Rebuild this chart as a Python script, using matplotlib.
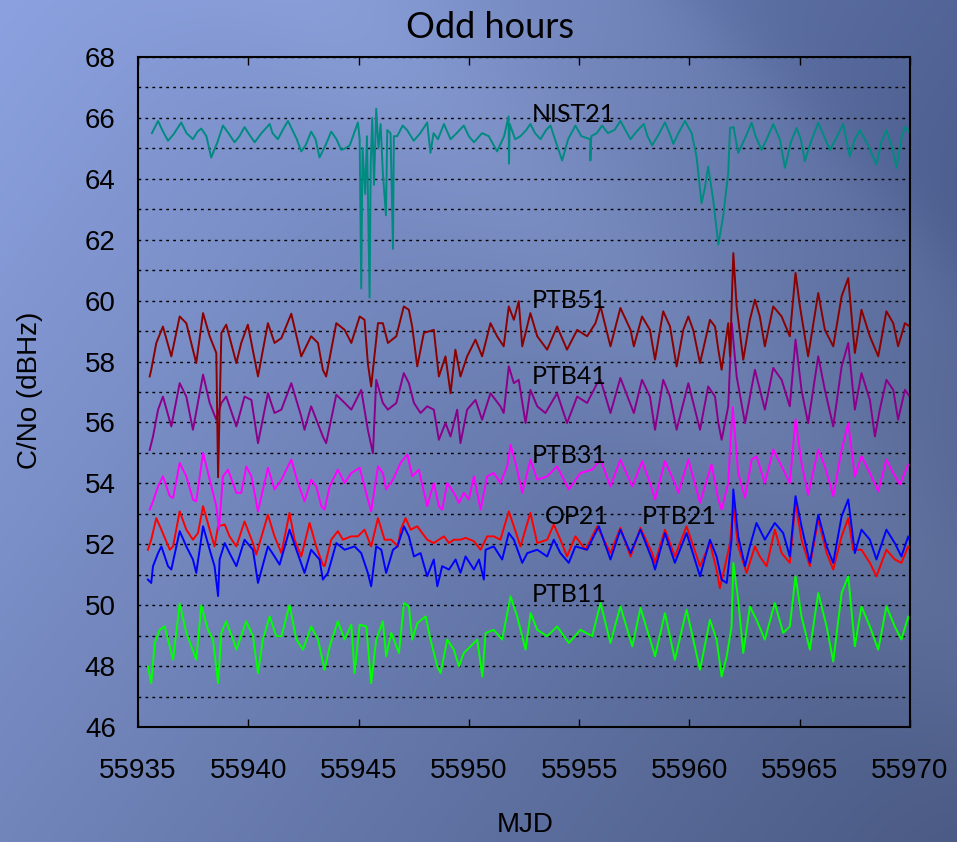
import numpy as np
import matplotlib
matplotlib.use("Agg")
import matplotlib.pyplot as plt
from matplotlib.ticker import MultipleLocator

# C/No per station, odd hours; x given as days after MJD 55935
MJD0 = 55935

nist21_day = [0.63, 0.91, 1.1, 1.36, 1.6, 1.96, 2.2, 2.49, 2.7, 2.87, 3.1, 3.32, 3.6, 3.85, 4.1, 4.38,
              4.6, 4.83, 5.05, 5.29, 5.6, 5.97, 6.1, 6.34, 6.6, 6.8, 7.0, 7.2, 7.4, 7.6, 7.85, 8.05,
              8.23, 8.5, 8.76, 9.0, 9.21, 9.4, 9.6, 9.8, 9.97, 10.05, 10.12, 10.18, 10.3, 10.38, 10.5,
              10.55, 10.62, 10.7, 10.8, 10.9, 11.0, 11.1, 11.24, 11.3, 11.45, 11.56, 11.6, 11.75, 12.0,
              12.2, 12.5, 12.8, 13.11, 13.26, 13.4, 13.6, 13.87, 14.17, 14.45, 14.77, 15.0, 15.23, 15.6,
              15.9, 16.28, 16.6, 16.8, 16.82, 16.85, 17.1, 17.34, 17.6, 17.79, 18.0, 18.25, 18.5, 18.7,
              18.95, 19.23, 19.5, 19.83, 20.1, 20.5, 20.51, 20.55, 20.8, 21.04, 21.3, 21.6, 21.87, 22.1,
              22.33, 22.6, 22.93, 23.1, 23.31, 23.6, 23.89, 24.1, 24.27, 24.5, 24.8, 25.1, 25.32, 25.55,
              25.7, 25.85, 26.08, 26.31, 26.53, 26.76, 26.84, 27.0, 27.21, 27.5, 27.82, 28.0, 28.27, 28.5,
              28.8, 29.1, 29.33, 29.6, 29.86, 30.05, 30.23, 30.5, 30.84, 31.1, 31.37, 31.7, 31.97, 32.27,
              32.5, 32.73, 33.1, 33.48, 33.7, 33.93, 34.2, 34.39, 34.6, 34.77, 35.0]
nist21_cn = [65.5, 65.9, 65.6, 65.25, 65.45, 65.85, 65.5, 65.3, 65.55, 65.65, 65.4, 64.7, 65.2, 65.75, 65.5, 65.2,
             65.4, 65.7, 65.45, 65.2, 65.5, 65.8, 65.5, 65.3, 65.65, 65.9, 65.6, 65.3, 64.9, 65.1, 65.55, 65.3,
             64.7, 65.1, 65.55, 65.3, 64.95, 65.0, 65.1, 65.5, 65.85, 65.3, 60.4, 65.0, 63.5, 65.4, 60.1,
             64.5, 66.0, 63.8, 66.3, 65.0, 65.8, 64.2, 62.8, 65.6, 65.5, 61.7, 65.4, 65.4, 65.75,
             65.6, 65.25, 65.5, 65.85, 64.85, 65.5, 65.3, 65.8, 65.3, 65.5, 65.75, 65.4, 65.2, 65.5,
             65.4, 64.9, 65.4, 66.05, 64.5, 65.8, 65.3, 65.4, 65.6, 65.8, 65.5, 65.3, 65.6, 65.75,
             65.2, 64.6, 65.3, 65.75, 65.4, 65.3, 64.6, 65.4, 65.5, 65.75, 65.5, 65.6, 65.9, 65.6,
             65.3, 65.55, 65.8, 65.4, 65.1, 65.45, 65.85, 65.5, 65.15, 65.5, 65.9, 65.5, 64.74, 63.2,
             63.7, 64.4, 63.3, 61.84, 62.77, 64.2, 65.67, 65.7, 64.85, 65.3, 65.84, 65.4, 64.95, 65.3,
             65.8, 65.3, 64.36, 65.2, 65.67, 65.3, 64.58, 65.2, 65.84, 65.4, 64.95, 65.4, 65.8, 64.74,
             65.3, 65.6, 65.1, 64.47, 65.2, 65.6, 65.0, 64.36, 65.3, 65.7, 65.5]

ptb51_day = [0.53, 0.6, 0.83, 1.13, 1.51, 1.89, 2.19, 2.64, 2.95, 3.25, 3.55, 3.63, 3.78, 4.0, 4.46, 4.68,
             4.98, 5.44, 5.89, 6.19, 6.5, 6.95, 7.4, 7.85, 8.16, 8.38, 8.53, 8.99, 9.37, 9.67, 10.05, 10.27,
             10.42, 10.57, 10.88, 11.1, 11.33, 11.71, 12.05, 12.28, 12.43, 12.66, 12.96, 13.41, 13.64, 13.94,
             14.17, 14.39, 14.62, 14.92, 15.3, 15.6, 15.98, 16.28, 16.58, 16.81, 17.04, 17.26, 17.42, 17.79,
             18.1, 18.55, 19.0, 19.45, 19.91, 20.36, 20.74, 20.97, 21.42, 21.87, 22.33, 22.48, 22.85, 23.21,
             23.44, 23.81, 24.12, 24.42, 24.72, 24.95, 25.17, 25.48, 25.93, 26.16, 26.31, 26.46, 26.76, 26.84,
             26.99, 27.14, 27.44, 27.74, 27.97, 28.19, 28.42, 28.8, 29.18, 29.55, 29.81, 30.01, 30.38, 30.84,
             31.14, 31.52, 31.9, 32.2, 32.5, 32.8, 33.18, 33.56, 33.93, 34.24, 34.46, 34.77, 34.99]
ptb51_cn = [57.51, 57.73, 58.61, 59.15, 58.17, 59.48, 59.26, 57.95, 59.59, 58.83, 58.28, 54.2, 58.94, 59.21, 57.95, 58.61,
            59.21, 57.51, 59.26, 58.61, 58.77, 59.57, 58.17, 58.83, 58.61, 57.73, 57.51, 59.26, 59.04, 58.61, 59.48, 59.37,
            57.95, 57.18, 59.26, 59.26, 58.61, 58.83, 59.81, 59.7, 59.15, 57.84, 58.94, 59.04, 57.51, 58.17,
            56.96, 58.39, 57.51, 58.17, 58.72, 58.17, 59.26, 58.83, 58.5, 59.81, 59.37, 59.98, 58.5, 59.59,
            58.83, 58.39, 59.15, 58.39, 59.04, 58.83, 59.26, 59.81, 58.5, 59.76, 59.04, 58.5, 59.48, 59.04,
            58.06, 59.65, 59.15, 57.84, 59.04, 59.48, 59.04, 57.95, 59.37, 59.15, 58.39, 57.73, 59.26, 58.17,
            61.56, 59.81, 58.06, 59.37, 60.03, 59.48, 58.5, 59.81, 59.48, 58.83, 60.91, 59.81, 58.17, 60.25,
            59.04, 58.5, 60.14, 60.74, 58.28, 59.7, 58.83, 58.17, 59.65, 59.26, 58.5, 59.26, 59.15]

ptb41_day = [0.53, 0.68, 0.91, 1.13, 1.51, 1.89, 2.19, 2.49, 2.95, 3.25, 3.55, 3.78, 4.0, 4.46, 4.83, 5.14,
             5.44, 5.89, 6.19, 6.5, 6.95, 7.4, 7.55, 7.85, 8.38, 8.53, 8.99, 9.37, 9.67, 10.12, 10.42, 10.65,
             10.8, 11.1, 11.33, 11.71, 12.05, 12.28, 12.51, 12.81, 13.11, 13.41, 13.64, 13.94, 14.17, 14.47,
             14.62, 14.92, 15.3, 15.6, 15.98, 16.43, 16.58, 16.81, 17.04, 17.26, 17.57, 17.79, 18.1, 18.47,
             19.0, 19.45, 19.91, 20.36, 20.82, 20.97, 21.42, 21.87, 22.48, 22.85, 23.21, 23.44, 23.81, 24.12,
             24.42, 24.95, 25.48, 25.85, 26.16, 26.31, 26.46, 26.76, 26.92, 27.14, 27.52, 27.97, 28.42, 28.8,
             29.18, 29.55, 29.81, 30.08, 30.38, 30.84, 31.14, 31.52, 31.9, 32.2, 32.5, 32.8, 33.18, 33.41,
             33.63, 33.93, 34.24, 34.46, 34.77, 34.99]
ptb41_cn = [55.1, 55.54, 56.42, 56.85, 55.87, 57.29, 56.85, 55.76, 57.57, 56.64, 56.09, 56.64, 56.85, 55.87, 56.85, 56.74,
            55.32, 56.96, 56.31, 56.42, 57.29, 56.2, 55.76, 56.53, 55.54, 55.32, 56.91, 56.64, 56.42, 57.07, 55.76, 54.99,
            57.4, 56.64, 56.42, 56.64, 57.62, 57.29, 56.64, 56.31, 56.53, 56.42, 55.43, 55.98, 55.54, 56.42,
            55.32, 56.42, 56.74, 56.09, 56.96, 56.53, 56.31, 57.84, 57.29, 57.4, 55.98, 57.07, 56.53, 56.31,
            56.96, 55.98, 56.85, 56.64, 57.29, 57.4, 56.31, 57.46, 56.31, 57.4, 56.85, 55.76, 57.4, 56.85,
            55.76, 57.29, 55.76, 57.18, 56.85, 55.98, 55.43, 56.53, 59.26, 57.51, 55.98, 57.73, 56.42, 57.79,
            57.4, 56.53, 58.72, 57.07, 55.98, 58.17, 57.07, 55.87, 57.84, 58.61, 56.42, 57.62, 56.74, 55.54,
            56.42, 57.4, 57.07, 56.09, 57.07, 56.85]

ptb31_day = [0.53, 0.68, 0.91, 1.13, 1.44, 1.59, 1.89, 2.19, 2.49, 2.64, 2.95, 3.25, 3.55, 3.67, 3.85, 4.08,
             4.46, 4.68, 4.91, 5.14, 5.44, 5.89, 6.19, 6.5, 6.95, 7.25, 7.55, 7.85, 8.08, 8.31, 8.46, 8.69,
             9.06, 9.37, 9.67, 10.05, 10.42, 10.57, 10.88, 11.1, 11.25, 11.56, 11.9, 12.21, 12.43, 12.73,
             13.11, 13.41, 13.64, 13.79, 14.02, 14.32, 14.55, 14.77, 15.0, 15.23, 15.53, 15.83, 16.13, 16.43,
             16.74, 16.89, 17.19, 17.42, 17.79, 18.1, 18.55, 19.0, 19.53, 20.06, 20.59, 20.97, 21.42, 21.87,
             22.41, 22.86, 23.31, 23.44, 23.89, 24.27, 24.5, 24.95, 25.48, 26.0, 26.31, 26.46, 26.76, 26.84,
             26.96, 27.21, 27.52, 27.82, 28.04, 28.42, 28.8, 29.18, 29.55, 29.81, 30.08, 30.38, 30.84, 31.14,
             31.52, 31.9, 32.2, 32.5, 32.8, 33.18, 33.56, 33.93, 34.24, 34.54, 34.92]
ptb31_cn = [53.14, 53.41, 53.9, 54.23, 53.58, 53.52, 54.67, 54.23, 53.47, 53.41, 55.0, 54.12, 53.25, 52.48, 54.23, 54.45,
            53.69, 53.69, 54.56, 54.23, 53.08, 54.51, 53.8, 54.12, 54.78, 54.01, 53.41, 54.12, 53.9, 53.25, 53.14, 53.9,
            54.45, 54.01, 54.34, 54.51, 53.47, 53.08, 54.56, 54.34, 53.8, 54.12, 54.67, 54.95, 54.23, 54.45,
            53.25, 54.01, 53.25, 53.14, 54.01, 53.69, 53.36, 53.69, 53.47, 54.23, 53.14, 54.23, 54.34, 54.01,
            54.56, 55.27, 54.45, 53.69, 54.78, 54.12, 54.23, 54.56, 53.8, 54.34, 54.45, 54.78, 53.9, 54.78,
            53.9, 54.73, 53.8, 53.47, 54.73, 54.12, 53.69, 54.78, 53.36, 54.62, 53.47, 53.14, 54.01, 55.11,
            56.5, 54.34, 53.52, 54.78, 54.89, 54.01, 55.11, 54.56, 54.01, 56.1, 54.67, 53.63, 55.11, 54.56,
            53.58, 55.11, 55.98, 54.23, 54.89, 54.34, 53.74, 54.78, 54.34, 53.96, 54.62]

op21_day = [0.45, 0.6, 0.83, 1.06, 1.44, 1.59, 1.89, 2.19, 2.49, 2.72, 2.95, 3.25, 3.47, 3.63, 3.93, 4.15,
            4.46, 4.83, 5.21, 5.36, 5.89, 6.19, 6.5, 6.87, 7.1, 7.4, 7.78, 8.08, 8.38, 8.46, 8.76, 9.06,
            9.29, 9.67, 9.97, 10.27, 10.57, 10.88, 11.18, 11.48, 11.78, 11.91, 12.13, 12.36, 12.66, 13.11,
            13.41, 13.87, 14.1, 14.32, 14.62, 14.85, 15.23, 15.53, 15.83, 16.13, 16.43, 16.81, 17.04, 17.34,
            17.79, 18.1, 18.55, 18.85, 19.15, 19.45, 19.83, 20.29, 20.82, 21.42, 21.87, 22.33, 22.78, 23.31,
            23.44, 23.89, 24.34, 24.87, 25.48, 25.93, 26.23, 26.38, 26.61, 26.84, 26.99, 27.21, 27.59, 27.97,
            28.19, 28.5, 28.87, 29.18, 29.55, 29.81, 30.08, 30.46, 30.84, 31.22, 31.52, 31.9, 32.2, 32.42,
            32.8, 33.18, 33.48, 33.93, 34.31, 34.61, 34.92, 35.0]
op21_cn = [51.82, 52.15, 52.86, 52.48, 51.82, 51.93, 53.08, 52.48, 52.15, 52.37, 53.25, 52.48, 51.93, 52.59, 52.65, 52.26,
           51.93, 52.75, 52.04, 51.66, 52.97, 52.26, 51.71, 53.03, 52.15, 51.6, 52.7, 51.93, 51.33, 51.28, 52.15, 52.43,
           52.15, 52.26, 52.26, 52.48, 51.93, 52.86, 52.15, 52.15, 51.93, 52.48, 52.86, 52.48, 52.59, 52.15,
           52.04, 52.26, 52.04, 52.15, 52.15, 52.21, 52.1, 51.82, 52.26, 52.26, 52.15, 53.08, 52.59, 51.93,
           53.03, 52.04, 52.15, 52.65, 52.15, 51.6, 52.26, 51.82, 52.59, 51.71, 52.54, 51.6, 52.54, 51.71,
           51.39, 52.48, 51.6, 52.59, 51.28, 52.04, 51.17, 50.56, 51.28, 52.04, 53.25, 51.93, 51.06, 51.93,
           51.6, 51.28, 52.48, 51.71, 51.39, 53.36, 52.15, 51.28, 52.81, 51.71, 51.17, 52.26, 52.86, 51.82,
           51.82, 51.39, 50.95, 51.82, 51.5, 51.39, 51.93, 51.82]

ptb21_day = [0.45, 0.6, 0.68, 0.91, 1.06, 1.36, 1.51, 1.89, 2.19, 2.49, 2.64, 2.95, 3.25, 3.47, 3.63, 3.7,
             3.93, 4.15, 4.46, 4.83, 5.21, 5.44, 5.89, 6.19, 6.42, 6.87, 7.18, 7.55, 7.85, 8.23, 8.38, 8.61,
             8.99, 9.37, 9.82, 10.12, 10.42, 10.57, 10.8, 11.03, 11.25, 11.56, 11.76, 12.06, 12.28, 12.51,
             12.81, 13.11, 13.41, 13.57, 13.79, 14.1, 14.4, 14.62, 14.85, 15.23, 15.46, 15.68, 15.76, 16.13,
             16.51, 16.81, 17.04, 17.42, 17.65, 18.1, 18.55, 18.85, 19.15, 19.53, 19.83, 20.36, 20.89, 21.42,
             21.87, 22.33, 22.78, 23.31, 23.44, 23.89, 24.34, 24.87, 25.48, 25.93, 26.23, 26.46, 26.69, 26.91,
             26.99, 27.21, 27.52, 27.74, 28.04, 28.42, 28.87, 29.25, 29.55, 29.81, 30.08, 30.46, 30.84, 31.22,
             31.52, 31.9, 32.2, 32.5, 32.8, 33.18, 33.48, 33.93, 34.31, 34.61, 34.92, 35.0]
ptb21_cn = [50.84, 50.73, 51.28, 51.71, 51.93, 51.28, 51.17, 52.43, 51.93, 51.5, 51.06, 52.59, 51.82, 51.28, 50.3, 51.5,
            52.04, 51.71, 51.28, 52.15, 51.82, 50.73, 51.93, 51.6, 51.33, 52.48, 51.82, 51.06, 51.82, 51.5, 50.84, 51.06,
            52.04, 51.82, 51.93, 51.71, 51.06, 50.62, 51.93, 51.82, 51.06, 51.82, 51.93, 52.59, 52.26, 51.6,
            51.71, 50.95, 51.5, 50.62, 51.28, 51.17, 51.5, 51.06, 51.6, 51.17, 51.5, 50.84, 51.82, 51.93,
            51.5, 52.37, 52.15, 51.39, 51.71, 51.82, 51.6, 52.15, 51.71, 51.39, 51.93, 51.82, 52.59, 51.5,
            52.48, 51.71, 52.48, 51.5, 51.17, 52.37, 51.39, 52.37, 50.95, 52.15, 51.6, 50.84, 50.73, 52.15,
            53.8, 52.26, 51.28, 51.93, 52.7, 52.15, 52.7, 52.37, 51.6, 53.58, 52.59, 51.39, 52.97, 51.93,
            51.39, 52.92, 53.47, 51.71, 52.48, 52.15, 51.5, 52.48, 52.04, 51.6, 52.26, 52.1]

ptb11_day = [0.45, 0.6, 0.76, 0.98, 1.21, 1.51, 1.59, 1.89, 2.19, 2.42, 2.64, 2.87, 3.17, 3.4, 3.63, 3.78,
             4.0, 4.31, 4.46, 4.91, 5.21, 5.44, 5.66, 5.97, 6.27, 6.5, 6.87, 7.18, 7.48, 7.85, 8.16, 8.46,
             8.69, 9.06, 9.37, 9.67, 9.82, 10.05, 10.35, 10.57, 10.8, 11.1, 11.25, 11.48, 11.6, 11.83, 12.06,
             12.28, 12.43, 12.66, 13.04, 13.26, 13.57, 13.72, 14.02, 14.32, 14.55, 14.77, 15.08, 15.38, 15.61,
             15.76, 16.13, 16.51, 16.89, 17.19, 17.57, 17.8, 18.1, 18.55, 19.0, 19.53, 20.06, 20.59, 20.97,
             21.42, 21.87, 22.41, 22.78, 23.31, 23.44, 23.89, 24.34, 24.87, 25.48, 25.93, 26.23, 26.46, 26.69,
             26.91, 26.99, 27.21, 27.44, 27.74, 28.04, 28.42, 28.87, 29.25, 29.55, 29.81, 30.08, 30.46, 30.84,
             31.22, 31.52, 31.9, 32.2, 32.5, 32.8, 33.18, 33.56, 33.93, 34.31, 34.61, 34.92, 35.0]
ptb11_cn = [47.99, 47.44, 48.76, 49.19, 49.3, 48.43, 48.21, 50.05, 49.09, 48.65, 48.21, 50.0, 49.19, 48.87, 47.44, 49.09,
            49.47, 48.87, 48.54, 49.47, 48.98, 47.77, 48.87, 49.63, 48.98, 48.98, 50.0, 48.87, 48.54, 49.3, 48.87, 47.88,
            48.65, 49.47, 48.87, 49.36, 47.77, 49.36, 49.3, 47.44, 48.87, 49.47, 48.32, 49.09, 48.87, 48.43, 50.07,
            49.96, 48.87, 49.41, 49.63, 48.87, 47.99, 47.77, 48.87, 48.54, 47.99, 48.43, 48.65, 48.87, 47.66,
            49.09, 49.19, 48.87, 50.29, 49.63, 48.54, 49.74, 49.19, 48.98, 49.3, 48.76, 49.19, 48.98, 50.07,
            48.76, 49.96, 48.65, 49.91, 48.65, 48.32, 49.74, 48.21, 49.85, 47.88, 49.52, 48.87, 47.66, 48.32,
            49.3, 51.39, 50.18, 48.43, 49.96, 49.52, 48.87, 50.07, 49.09, 49.3, 50.95, 49.63, 48.54, 50.4,
            49.3, 48.15, 50.4, 50.95, 48.65, 49.96, 49.3, 48.54, 49.96, 49.3, 48.87, 49.63, 49.5]

# name, x, y, colour, label position (MJD, C/No)
series = [
    ("PTB11", ptb11_day, ptb11_cn, "#00ff00", (55952.86, 50.35)),
    ("OP21", op21_day, op21_cn, "#ff0000", (55953.45, 52.9)),
    ("PTB21", ptb21_day, ptb21_cn, "#0000ff", (55957.85, 52.9)),
    ("PTB31", ptb31_day, ptb31_cn, "#ff00ff", (55952.86, 54.9)),
    ("PTB41", ptb41_day, ptb41_cn, "#8b008b", (55952.86, 57.5)),
    ("PTB51", ptb51_day, ptb51_cn, "#8b0000", (55952.86, 60.0)),
    ("NIST21", nist21_day, nist21_cn, "#008b80", (55952.86, 66.1)),
]

W, H = 957, 842
fig = plt.figure(figsize=(W / 100, H / 100), dpi=100)

# slide style background: blue gradient with soft diagonal bands
bg = fig.add_axes([0, 0, 1, 1], zorder=-10)
yy, xx = np.mgrid[0:H, 0:W]
s = 0.6 * xx / W + 0.4 * yy / H
d = (xx - yy) / W
light = np.array([140, 162, 224]) / 255
dark = np.array([74, 90, 132]) / 255
img = light[None, None, :] * (1 - s[..., None]) + dark[None, None, :] * s[..., None]
shade = -0.07 / (1 + np.exp(-(d - 0.72) / 0.03)) + 0.04 * np.exp(-((d - 0.35) / 0.15) ** 2)
img = np.clip(img + shade[..., None], 0, 1)
bg.imshow(img, aspect="auto", extent=[0, 1, 0, 1], origin="upper")
bg.axis("off")

ax = fig.add_axes([138 / W, 1 - 727 / H, 772 / W, 670 / H])
ax.patch.set_alpha(0)

for name, day, cn, color, (lx, ly) in series:
    ax.plot(MJD0 + np.array(day), cn, color=color, lw=1.4)
    ax.text(lx, ly, name, fontsize=18, family="Lato", va="center", ha="left", color="black")

ax.set_xlim(55935, 55970)
ax.set_ylim(46, 68)
ax.xaxis.set_major_locator(MultipleLocator(5))
ax.yaxis.set_major_locator(MultipleLocator(2))
ax.yaxis.set_minor_locator(MultipleLocator(1))
ax.grid(True, which="both", axis="y", color="black", ls=(0, (2, 3)), lw=1.0)
ax.tick_params(axis="x", direction="in", top=True, length=6, width=1, labelsize=20, pad=22)
ax.tick_params(axis="y", which="both", length=0, labelsize=20, pad=16)
for lab in ax.get_xticklabels() + ax.get_yticklabels():
    lab.set_family("Liberation Sans")
for sp in ax.spines.values():
    sp.set_linewidth(1.5)
ax.ticklabel_format(useOffset=False, style="plain", axis="x")

fig.text(30 / W, 1 - 390 / H, "C/No (dBHz)", rotation=90, fontsize=20, family="Liberation Sans",
         ha="center", va="center")
fig.text(525 / W, 1 - 825 / H, "MJD", fontsize=20, family="Liberation Sans", ha="center", va="center")
fig.text(490 / W, 1 - 27 / H, "Odd hours", fontsize=26, family="Lato", ha="center", va="center")

fig.savefig("out.png", dpi=100)
